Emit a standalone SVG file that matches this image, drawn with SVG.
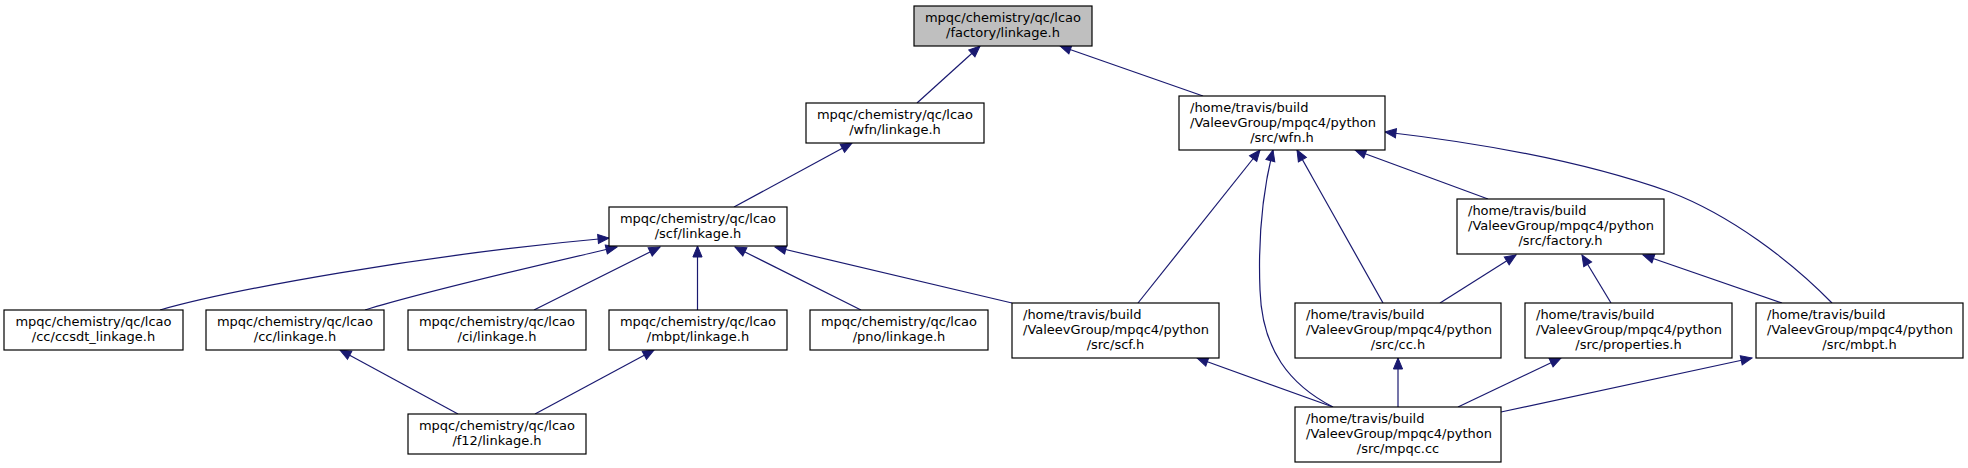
<svg xmlns="http://www.w3.org/2000/svg" width="1968" height="468" viewBox="0 0 1968 468">
<style>
.n rect{fill:#ffffff;stroke:#000000;stroke-width:1.2}
.root rect{fill:#bfbfbf}
text{font-family:"DejaVu Sans",sans-serif;font-size:13px;fill:#000000}
.c{text-anchor:middle}
.e path{fill:none;stroke:#191970;stroke-width:1.2}
</style>
<defs>
<marker id="ah" markerUnits="userSpaceOnUse" markerWidth="14" markerHeight="12" viewBox="0 -6 12 12" refX="11" refY="0" orient="auto">
<path d="M0,-4.6 L11,0 L0,4.6 Z" fill="#191970" stroke="#191970" stroke-width="1"/>
</marker>
</defs>
<rect width="1968" height="468" fill="#ffffff"/>
<g class="e" id="edges">
<path marker-end="url(#ah)" d="M917,103 L980,46"/>
<path marker-end="url(#ah)" d="M1203,96 L1060,46"/>
<path marker-end="url(#ah)" d="M734,207 L852,143"/>
<path marker-end="url(#ah)" d="M160,310 C230,290 420,255 609,238"/>
<path marker-end="url(#ah)" d="M365,310 C430,290 540,265 617,247"/>
<path marker-end="url(#ah)" d="M534,310 L660,247"/>
<path marker-end="url(#ah)" d="M697.5,310 L697.5,246"/>
<path marker-end="url(#ah)" d="M861,310 L735,247"/>
<path marker-end="url(#ah)" d="M1012,303 L775,247"/>
<path marker-end="url(#ah)" d="M458,414 L340,350"/>
<path marker-end="url(#ah)" d="M535,414 L654,350"/>
<path marker-end="url(#ah)" d="M1138,303 L1260,150"/>
<path marker-end="url(#ah)" d="M1333,407 C1290,385 1262,350 1260,290 C1258,240 1263,190 1273,150"/>
<path marker-end="url(#ah)" d="M1383,303 L1297,150"/>
<path marker-end="url(#ah)" d="M1488,199 L1355,150"/>
<path marker-end="url(#ah)" d="M1832,303 C1790,260 1730,215 1670,192 C1580,160 1480,143 1385,132"/>
<path marker-end="url(#ah)" d="M1440,303 L1516,255"/>
<path marker-end="url(#ah)" d="M1611,303 L1582,255"/>
<path marker-end="url(#ah)" d="M1782,303 L1643,255"/>
<path marker-end="url(#ah)" d="M1333,407 L1197,358"/>
<path marker-end="url(#ah)" d="M1398,407 L1398,358"/>
<path marker-end="url(#ah)" d="M1458,407 L1561,358"/>
<path marker-end="url(#ah)" d="M1501,412 L1752,358"/>
</g>
<g class="n root" id="node_factory_linkage"><rect x="914" y="6" width="178" height="40"/><text class="c" x="1003" y="22">mpqc/chemistry/qc/lcao</text><text class="c" x="1003" y="37">/factory/linkage.h</text></g>
<g class="n" id="node_wfn_linkage"><rect x="806" y="103" width="178" height="40"/><text class="c" x="895" y="119">mpqc/chemistry/qc/lcao</text><text class="c" x="895" y="134">/wfn/linkage.h</text></g>
<g class="n" id="node_scf_linkage"><rect x="609" y="207" width="178" height="39"/><text class="c" x="698" y="223">mpqc/chemistry/qc/lcao</text><text class="c" x="698" y="238">/scf/linkage.h</text></g>
<g class="n" id="node_wfn_h"><rect x="1179" y="96" width="206" height="54"/><text x="1190" y="111.5">/home/travis/build</text><text x="1190" y="126.5">/ValeevGroup/mpqc4/python</text><text class="c" x="1282" y="141.5">/src/wfn.h</text></g>
<g class="n" id="node_ccsdt_linkage"><rect x="4" y="310" width="179" height="40"/><text class="c" x="93.5" y="326">mpqc/chemistry/qc/lcao</text><text class="c" x="93.5" y="341">/cc/ccsdt_linkage.h</text></g>
<g class="n" id="node_cc_linkage"><rect x="206" y="310" width="178" height="40"/><text class="c" x="295" y="326">mpqc/chemistry/qc/lcao</text><text class="c" x="295" y="341">/cc/linkage.h</text></g>
<g class="n" id="node_ci_linkage"><rect x="408" y="310" width="178" height="40"/><text class="c" x="497" y="326">mpqc/chemistry/qc/lcao</text><text class="c" x="497" y="341">/ci/linkage.h</text></g>
<g class="n" id="node_mbpt_linkage"><rect x="609" y="310" width="178" height="40"/><text class="c" x="698" y="326">mpqc/chemistry/qc/lcao</text><text class="c" x="698" y="341">/mbpt/linkage.h</text></g>
<g class="n" id="node_pno_linkage"><rect x="810" y="310" width="178" height="40"/><text class="c" x="899" y="326">mpqc/chemistry/qc/lcao</text><text class="c" x="899" y="341">/pno/linkage.h</text></g>
<g class="n" id="node_scf_h"><rect x="1012" y="303" width="207" height="55"/><text x="1023" y="318.5">/home/travis/build</text><text x="1023" y="333.5">/ValeevGroup/mpqc4/python</text><text class="c" x="1115.5" y="348.5">/src/scf.h</text></g>
<g class="n" id="node_f12_linkage"><rect x="408" y="414" width="178" height="40"/><text class="c" x="497" y="430">mpqc/chemistry/qc/lcao</text><text class="c" x="497" y="445">/f12/linkage.h</text></g>
<g class="n" id="node_factory_h"><rect x="1457" y="199" width="207" height="55"/><text x="1468" y="214.5">/home/travis/build</text><text x="1468" y="229.5">/ValeevGroup/mpqc4/python</text><text class="c" x="1560.5" y="244.5">/src/factory.h</text></g>
<g class="n" id="node_cc_h"><rect x="1295" y="303" width="206" height="55"/><text x="1306" y="318.5">/home/travis/build</text><text x="1306" y="333.5">/ValeevGroup/mpqc4/python</text><text class="c" x="1398" y="348.5">/src/cc.h</text></g>
<g class="n" id="node_properties_h"><rect x="1525" y="303" width="207" height="55"/><text x="1536" y="318.5">/home/travis/build</text><text x="1536" y="333.5">/ValeevGroup/mpqc4/python</text><text class="c" x="1628.5" y="348.5">/src/properties.h</text></g>
<g class="n" id="node_mbpt_h"><rect x="1756" y="303" width="207" height="55"/><text x="1767" y="318.5">/home/travis/build</text><text x="1767" y="333.5">/ValeevGroup/mpqc4/python</text><text class="c" x="1859.5" y="348.5">/src/mbpt.h</text></g>
<g class="n" id="node_mpqc_cc"><rect x="1295" y="407" width="206" height="55"/><text x="1306" y="422.5">/home/travis/build</text><text x="1306" y="437.5">/ValeevGroup/mpqc4/python</text><text class="c" x="1398" y="452.5">/src/mpqc.cc</text></g>
</svg>
